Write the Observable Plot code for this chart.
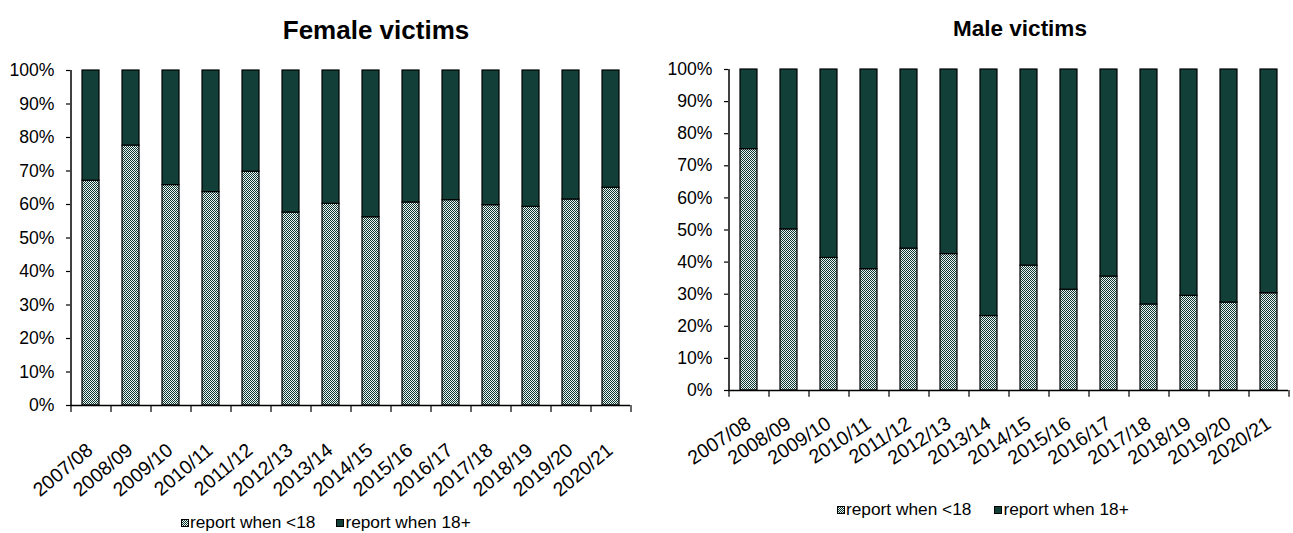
<!DOCTYPE html>
<html>
<head>
<meta charset="utf-8">
<script src="https://cdn.jsdelivr.net/npm/d3@7"></script>
<script src="https://cdn.jsdelivr.net/npm/@observablehq/plot@0.6"></script>
<style>
  html, body { margin: 0; padding: 0; background: #fff; }
  body { width: 1293px; height: 533px; position: relative; overflow: hidden; font-family: "Liberation Sans", Arial, sans-serif; color: #000; }
  .title { position: absolute; font-weight: bold; text-align: center; white-space: nowrap; }
  .chart { position: absolute; top: 0; }
  .legend { position: absolute; font-size: 17.3px; white-space: nowrap; display: flex; align-items: center; }
  .legend .item { display: flex; align-items: center; }
  .legend svg { margin-right: 1px; }
</style>
</head>
<body>
<svg width="0" height="0" style="position:absolute">
  <defs>
    <pattern id="checker" patternUnits="userSpaceOnUse" width="2" height="2">
      <rect width="2" height="2" fill="#eef2f1"></rect>
      <rect x="0" y="0" width="1" height="1" fill="#0f3a33"></rect>
      <rect x="1" y="1" width="1" height="1" fill="#0f3a33"></rect>
    </pattern>
  </defs>
</svg>
<div class="title" id="t1" style="left:0; width:752px; top:15px; font-size:26px;">Female victims</div>
<div class="title" id="t2" style="left:646px; width:748px; top:16px; font-size:22.5px;">Male victims</div>
<div class="chart" id="c1" style="left:0;"></div>
<div class="chart" id="c2" style="left:646px;"></div>
<div class="legend" id="l1" style="left:181px; top:512px;"></div>
<div class="legend" id="l2" style="left:837px; top:499px;"></div>
<script>
const years = ["2007/08","2008/09","2009/10","2010/11","2011/12","2012/13","2013/14","2014/15","2015/16","2016/17","2017/18","2018/19","2019/20","2020/21"];
const seriesNames = ["report when <18", "report when 18+"];
// share reporting when under 18 (the rest reported when 18+)
const femaleUnder18 = [0.671, 0.776, 0.658, 0.637, 0.698, 0.576, 0.602, 0.562, 0.606, 0.613, 0.598, 0.593, 0.615, 0.650];
const maleUnder18 = [0.752, 0.502, 0.413, 0.378, 0.442, 0.425, 0.232, 0.389, 0.314, 0.355, 0.268, 0.295, 0.274, 0.303];

const darkGreen = "#123f38";
const patternFill = "url(#checker)";

function makeChart(values, opts) {
  const data = years.map((year, i) => ({year, under: values[i]}));
  const plotWidth = opts.width - opts.marginLeft - opts.marginRight;
  const step = plotWidth / years.length;
  return Plot.plot({
    width: opts.width,
    height: opts.height,
    marginLeft: opts.marginLeft,
    marginRight: opts.marginRight,
    marginTop: opts.marginTop,
    marginBottom: opts.marginBottom,
    style: {fontFamily: "'Liberation Sans', Arial, sans-serif", fontSize: "17.6px", color: "#000", background: "transparent"},
    x: {domain: years, paddingInner: 0.575, paddingOuter: 0.2875, align: 0.5, label: null, axis: null},
    y: {domain: [0, 1], label: null},
    marks: [
      Plot.barY(data, {x: "year", y1: 0, y2: "under", fill: patternFill, stroke: "#000", strokeWidth: 1.2}),
      Plot.barY(data, {x: "year", y1: "under", y2: 1, fill: darkGreen, stroke: "#000", strokeWidth: 1.2}),
      Plot.ruleY([0], {stroke: "#000", strokeWidth: 1.5}),
      Plot.ruleX([years[0]], {y1: 0, y2: 1, dx: -step / 2, stroke: "#000", strokeWidth: 1.5}),
      Plot.ruleX(years, {y1: 0, y2: -0.021, dx: -step / 2, stroke: "#000", strokeWidth: 1.2}),
      Plot.ruleX([years[years.length - 1]], {y1: 0, y2: -0.021, dx: step / 2, stroke: "#000", strokeWidth: 1.2}),
      Plot.axisY({ticks: d3.range(0, 1.001, 0.1), tickFormat: d3.format(".0%"), tickSize: 4, tickPadding: 12, stroke: "#000", strokeWidth: 1.2, fontSize: 17.6}),
      Plot.text(years, {x: d => d, y: 0, dx: opts.labelDx, dy: opts.labelDy, rotate: opts.rotate, textAnchor: "end", lineAnchor: "middle", fontSize: opts.labelSize, fill: "#000"})
    ]
  });
}

document.getElementById("c1").appendChild(makeChart(femaleUnder18, {width: 646, height: 500, marginLeft: 70, marginRight: 16, marginTop: 70, marginBottom: 95, rotate: -40, labelDx: -1, labelDy: 42, labelSize: 19.5}));
document.getElementById("c2").appendChild(makeChart(maleUnder18, {width: 647, height: 490, marginLeft: 82, marginRight: 5, marginTop: 69, marginBottom: 100, rotate: -33, labelDx: 0, labelDy: 31, labelSize: 19.5}));

function makeLegend(el, gap) {
  const fills = [patternFill, darkGreen];
  seriesNames.forEach((name, i) => {
    const item = document.createElement("div");
    item.className = "item";
    if (i > 0) item.style.marginLeft = gap + "px";
    item.innerHTML = `<svg width="8" height="8"><rect x="0.5" y="0.5" width="7" height="7" fill="${fills[i]}" stroke="#000" stroke-width="1"></rect></svg><span>${name}</span>`;
    el.appendChild(item);
  });
}
makeLegend(document.getElementById("l1"), 21);
makeLegend(document.getElementById("l2"), 23);
</script>
</body>
</html>
